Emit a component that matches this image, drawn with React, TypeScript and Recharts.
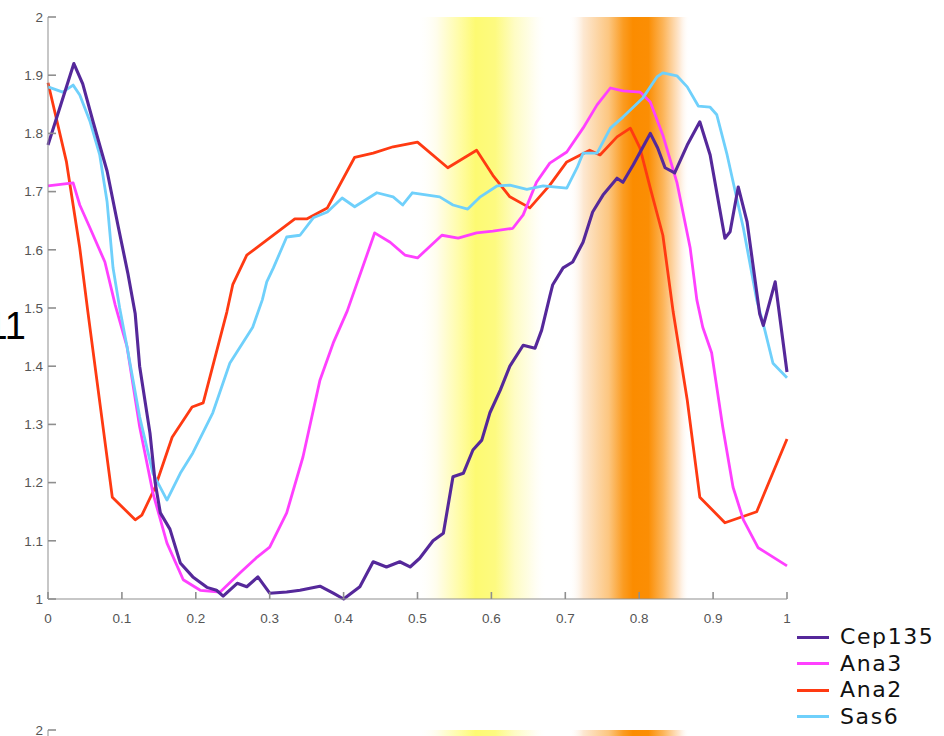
import React from 'react';
import { LineChart, Line, XAxis, YAxis, ReferenceArea } from 'recharts';

// Cep135 profile
const cep135X = [0, 0.035, 0.047, 0.061, 0.08, 0.095, 0.108, 0.118, 0.124, 0.138, 0.145, 0.152, 0.165, 0.179, 0.196, 0.215, 0.228, 0.237, 0.256, 0.269, 0.284, 0.3, 0.323, 0.341, 0.368, 0.386, 0.4, 0.422, 0.44, 0.458, 0.476, 0.49, 0.503, 0.521, 0.535, 0.548, 0.562, 0.575, 0.587, 0.598, 0.612, 0.625, 0.643, 0.659, 0.668, 0.679, 0.683, 0.697, 0.71, 0.724, 0.737, 0.751, 0.77, 0.778, 0.792, 0.815, 0.825, 0.835, 0.848, 0.865, 0.882, 0.896, 0.916, 0.923, 0.934, 0.946, 0.963, 0.968, 0.984, 1];
const cep135Y = [1.78, 1.92, 1.885, 1.82, 1.735, 1.64, 1.56, 1.49, 1.4, 1.285, 1.2, 1.148, 1.12, 1.062, 1.038, 1.02, 1.015, 1.005, 1.027, 1.021, 1.038, 1.01, 1.012, 1.015, 1.022, 1.01, 1.0, 1.021, 1.064, 1.055, 1.064, 1.055, 1.07, 1.1, 1.113, 1.21, 1.216, 1.256, 1.273, 1.32, 1.359, 1.4, 1.436, 1.431, 1.462, 1.52, 1.54, 1.569, 1.579, 1.613, 1.665, 1.694, 1.723, 1.716, 1.746, 1.8, 1.775, 1.741, 1.732, 1.78, 1.82, 1.763, 1.62, 1.631, 1.708, 1.648, 1.49, 1.47, 1.545, 1.39];

// Ana3 profile
const ana3X = [0, 0.034, 0.043, 0.057, 0.077, 0.091, 0.107, 0.124, 0.142, 0.161, 0.183, 0.206, 0.233, 0.26, 0.283, 0.3, 0.323, 0.345, 0.368, 0.386, 0.405, 0.442, 0.463, 0.483, 0.5, 0.533, 0.555, 0.58, 0.602, 0.629, 0.643, 0.661, 0.679, 0.702, 0.724, 0.743, 0.761, 0.778, 0.801, 0.815, 0.832, 0.851, 0.869, 0.878, 0.886, 0.898, 0.913, 0.927, 0.941, 0.961, 1];
const ana3Y = [1.71, 1.715, 1.677, 1.637, 1.579, 1.505, 1.433, 1.296, 1.182, 1.096, 1.033, 1.015, 1.012, 1.045, 1.072, 1.089, 1.148, 1.244, 1.376, 1.44, 1.495, 1.629, 1.613, 1.591, 1.586, 1.625, 1.62, 1.629, 1.632, 1.637, 1.66, 1.716, 1.749, 1.768, 1.809, 1.849, 1.878, 1.873, 1.871, 1.854, 1.797, 1.716, 1.603, 1.514, 1.467, 1.423, 1.296, 1.192, 1.136, 1.088, 1.057];

// Ana2 profile
const ana2X = [0, 0.025, 0.043, 0.054, 0.087, 0.118, 0.127, 0.145, 0.168, 0.195, 0.21, 0.242, 0.25, 0.269, 0.287, 0.334, 0.35, 0.378, 0.415, 0.44, 0.467, 0.5, 0.541, 0.58, 0.602, 0.625, 0.652, 0.679, 0.702, 0.733, 0.747, 0.77, 0.788, 0.801, 0.815, 0.832, 0.846, 0.865, 0.882, 0.916, 0.959, 1];
const ana2Y = [1.887, 1.751, 1.603, 1.493, 1.175, 1.136, 1.144, 1.192, 1.278, 1.33, 1.337, 1.493, 1.54, 1.591, 1.608, 1.653, 1.653, 1.672, 1.759, 1.766, 1.777, 1.785, 1.741, 1.771, 1.728, 1.691, 1.672, 1.711, 1.751, 1.771, 1.763, 1.794, 1.809, 1.775, 1.706, 1.625, 1.493, 1.342, 1.175, 1.131, 1.15, 1.275];

// Sas6 profile
const sas6X = [0, 0.02, 0.034, 0.043, 0.057, 0.07, 0.08, 0.088, 0.097, 0.107, 0.124, 0.142, 0.161, 0.179, 0.196, 0.223, 0.246, 0.277, 0.29, 0.296, 0.305, 0.323, 0.341, 0.359, 0.378, 0.398, 0.415, 0.445, 0.467, 0.48, 0.493, 0.53, 0.548, 0.568, 0.585, 0.608, 0.625, 0.648, 0.67, 0.702, 0.716, 0.724, 0.743, 0.761, 0.778, 0.805, 0.824, 0.832, 0.851, 0.865, 0.88, 0.896, 0.905, 0.919, 0.941, 0.959, 0.97, 0.981, 1];
const sas6Y = [1.88, 1.871, 1.883, 1.866, 1.82, 1.763, 1.682, 1.569, 1.5, 1.433, 1.313, 1.216, 1.17, 1.216, 1.251, 1.32, 1.405, 1.467, 1.514, 1.545, 1.569, 1.622, 1.625, 1.655, 1.665, 1.689, 1.674, 1.698, 1.691, 1.677, 1.698, 1.691, 1.677, 1.67, 1.691, 1.71, 1.711, 1.704, 1.71, 1.706, 1.741, 1.766, 1.766, 1.809, 1.828, 1.861, 1.897, 1.904, 1.899, 1.88, 1.847, 1.845, 1.832, 1.763, 1.637, 1.514, 1.462, 1.405, 1.38];

const xTicks = [0, 0.1, 0.2, 0.3, 0.4, 0.5, 0.6, 0.7, 0.8, 0.9, 1];
const xTickLabels = ['0', '0.1', '0.2', '0.3', '0.4', '0.5', '0.6', '0.7', '0.8', '0.9', '1'];
const yTicks = [1, 1.1, 1.2, 1.3, 1.4, 1.5, 1.6, 1.7, 1.8, 1.9, 2];
const yTickLabels = ['1', '1.1', '1.2', '1.3', '1.4', '1.5', '1.6', '1.7', '1.8', '1.9', '2'];

// highlighted phases along the x axis
const yellowBand = [0.5, 0.675];
const orangeBand = [0.705, 0.868];

const toPoints = (xs: number[], ys: number[]) => xs.map((x, i) => ({ x, y: ys[i] }));

const SERIES = [
  { name: 'Ana2', color: '#ff3a12', width: 2.8, data: toPoints(ana2X, ana2Y) },
  { name: 'Ana3', color: '#ff40ff', width: 2.8, data: toPoints(ana3X, ana3Y) },
  { name: 'Sas6', color: '#6fd0fb', width: 2.8, data: toPoints(sas6X, sas6Y) },
  { name: 'Cep135', color: '#55289a', width: 3.1, data: toPoints(cep135X, cep135Y) },
];
const LEGEND_ORDER = ['Cep135', 'Ana3', 'Ana2', 'Sas6'];

// axis frame for the panel below (only its top edge is on the page)
const framePoints = [{ x: 0, y: 2 }, { x: 1, y: 2 }];
const nextPanelTicks = [yTicks[yTicks.length - 1]];

const AXIS = '#8f8f8f';
const tickStyle = { fill: '#555', fontSize: 13.5, fontFamily: 'Liberation Sans, Arial, sans-serif' };
const tickLineStyle = { stroke: AXIS, strokeWidth: 1.6 };

const label = (values: number[], labels: string[]) => (v: number) => {
  const i = values.findIndex(t => Math.abs(t - v) < 1e-6);
  return i >= 0 ? labels[i] : String(v);
};

const Bands = () => (
  <defs>
    <linearGradient id="yellowFill" x1="0" y1="0" x2="1" y2="0">
      <stop offset="0" stopColor="#ffffff" stopOpacity={0} />
      <stop offset="0.15" stopColor="#fffdeb" />
      <stop offset="0.32" stopColor="#fffca8" />
      <stop offset="0.45" stopColor="#fdfa72" />
      <stop offset="0.6" stopColor="#fdfa80" />
      <stop offset="0.75" stopColor="#fefcc4" />
      <stop offset="0.9" stopColor="#fffef0" />
      <stop offset="1" stopColor="#ffffff" stopOpacity={0} />
    </linearGradient>
    <linearGradient id="orangeFill" x1="0" y1="0" x2="1" y2="0">
      <stop offset="0" stopColor="#ffffff" stopOpacity={0} />
      <stop offset="0.12" stopColor="#fde8d2" />
      <stop offset="0.33" stopColor="#fcc680" />
      <stop offset="0.45" stopColor="#fb9c22" />
      <stop offset="0.53" stopColor="#fb8c00" />
      <stop offset="0.66" stopColor="#fb8e04" />
      <stop offset="0.78" stopColor="#fcb458" />
      <stop offset="0.92" stopColor="#feead6" />
      <stop offset="1" stopColor="#ffffff" stopOpacity={0} />
    </linearGradient>
  </defs>
);

// negative tick sizes turn the tick marks inward, MATLAB-style
const Panel = ({ withLines }: { withLines: boolean }) => (
  <LineChart width={944} height={736} data={framePoints} margin={{ top: 17, right: 157, bottom: 107, left: 0 }}>
    <Bands />
    <XAxis
      type="number"
      dataKey="x"
      domain={[0, 1]}
      ticks={xTicks}
      tickFormatter={label(xTicks, xTickLabels)}
      tickSize={-7}
      tickMargin={21}
      height={30}
      axisLine={{ stroke: AXIS }}
      tickLine={tickLineStyle}
      tick={withLines ? tickStyle : false}
      allowDuplicatedCategory={false}
    />
    <YAxis
      type="number"
      domain={[1, 2]}
      ticks={withLines ? yTicks : nextPanelTicks}
      tickFormatter={label(yTicks, yTickLabels)}
      tickSize={-8}
      tickMargin={13}
      width={48}
      axisLine={{ stroke: AXIS }}
      tickLine={tickLineStyle}
      tick={tickStyle}
    />
    <ReferenceArea x1={yellowBand[0]} x2={yellowBand[1]} y1={1} y2={2} fill="url(#yellowFill)" fillOpacity={1} stroke="none" ifOverflow="hidden" />
    <ReferenceArea x1={orangeBand[0]} x2={orangeBand[1]} y1={1} y2={2} fill="url(#orangeFill)" fillOpacity={1} stroke="none" ifOverflow="hidden" />
    {withLines ? (
      SERIES.map(s => (
        <Line
          key={s.name}
          data={s.data}
          dataKey="y"
          type="linear"
          stroke={s.color}
          strokeWidth={s.width}
          strokeLinejoin="round"
          dot={false}
          activeDot={false}
          isAnimationActive={false}
        />
      ))
    ) : (
      <Line dataKey="y" stroke="none" dot={false} activeDot={false} isAnimationActive={false} />
    )}
  </LineChart>
);

export default function App() {
  return (
    <div style={{ position: 'absolute', left: 0, top: 0, width: 944, height: 736, overflow: 'hidden', background: '#fff' }}>
      <div style={{ position: 'absolute', left: 0, top: 0 }}>
        <Panel withLines />
      </div>
      {/* next panel starts just below */}
      <div style={{ position: 'absolute', left: 0, top: 713 }}>
        <Panel withLines={false} />
      </div>
      <div
        style={{
          position: 'absolute',
          right: 918,
          top: 307,
          fontFamily: 'Liberation Sans, Arial, sans-serif',
          fontSize: 38,
          lineHeight: '38px',
          color: '#000',
          whiteSpace: 'nowrap',
        }}
      >
        11
      </div>
      <div style={{ position: 'absolute', left: 797, top: 624 }}>
        {LEGEND_ORDER.map(name => {
          const s = SERIES.find(d => d.name === name)!;
          return (
            <div key={name} style={{ display: 'flex', alignItems: 'center', height: 26.5 }}>
              <div style={{ width: 32, height: 3, background: s.color, marginRight: 11 }} />
              <span
                style={{
                  fontFamily: 'DejaVu Sans, sans-serif',
                  fontSize: 22,
                  letterSpacing: 1.6,
                  color: '#111',
                  lineHeight: '26px',
                }}
              >
                {name}
              </span>
            </div>
          );
        })}
      </div>
    </div>
  );
}
